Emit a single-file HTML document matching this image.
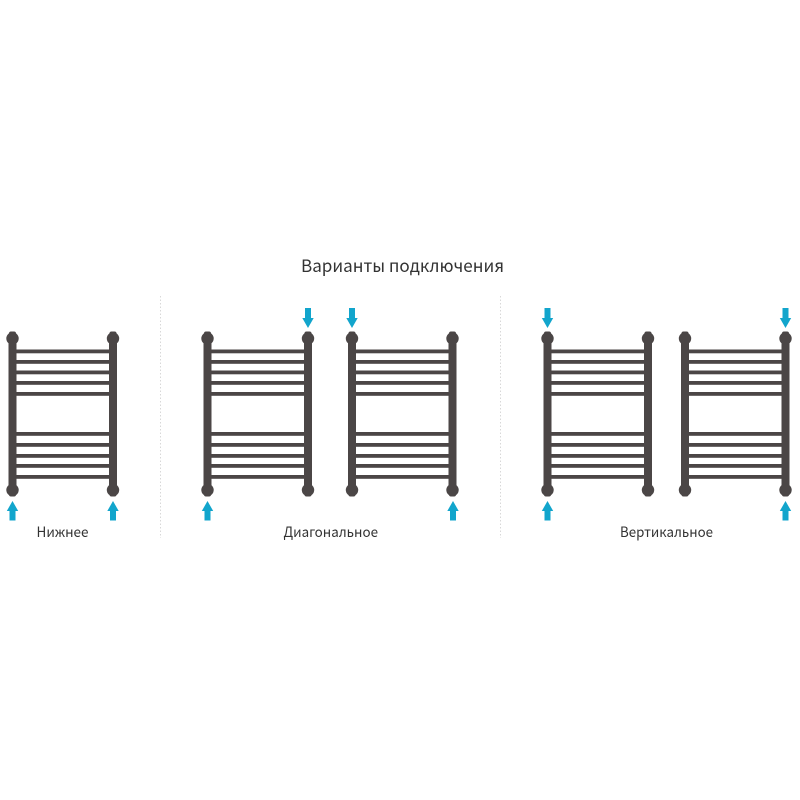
<!DOCTYPE html>
<html>
<head>
<meta charset="utf-8">
<style>
html,body{margin:0;padding:0;background:#fff;width:800px;height:800px;overflow:hidden}
svg{display:block}
text{font-family:"Noto Sans CJK SC","DejaVu Sans",sans-serif;fill:#333}
</style>
</head>
<body>
<svg width="800" height="800" viewBox="0 0 800 800" xmlns="http://www.w3.org/2000/svg" xmlns:xlink="http://www.w3.org/1999/xlink">
<defs>
<g id="r">
  <g fill="#4b4646">
    <rect x="-4" y="334" width="8" height="154"/>
    <rect x="96.5" y="334" width="8" height="154"/>
    <circle cx="0" cy="338.5" r="6.2"/>
    <rect x="-3.5" y="331.5" width="7" height="6" rx="2"/>
    <circle cx="100.5" cy="338.5" r="6.2"/>
    <rect x="97" y="331.5" width="7" height="6" rx="2"/>
    <circle cx="0" cy="490" r="6.2"/>
    <rect x="-3.5" y="491" width="7" height="5.5" rx="2"/>
    <circle cx="100.5" cy="490" r="6.2"/>
    <rect x="97" y="491" width="7" height="5.5" rx="2"/>
    <rect x="3" y="349.5" width="95" height="3.8"/>
    <rect x="3" y="360" width="95" height="3.8"/>
    <rect x="3" y="370.5" width="95" height="3.8"/>
    <rect x="3" y="381" width="95" height="3.8"/>
    <rect x="3" y="392" width="95" height="3.8"/>
    <rect x="3" y="432" width="95" height="3.8"/>
    <rect x="3" y="443" width="95" height="3.8"/>
    <rect x="3" y="454" width="95" height="3.8"/>
    <rect x="3" y="464" width="95" height="3.8"/>
    <rect x="3" y="475" width="95" height="3.8"/>
  </g>
</g>
<polygon id="u" fill="#12a5cc" points="0,501 5.7,511 3,511 3,520.5 -3,520.5 -3,511 -5.7,511"/>
<polygon id="d" fill="#12a5cc" points="0,328 5.7,318 3,318 3,308 -3,308 -3,318 -5.7,318"/>
</defs>

<text x="301" y="272" font-size="17" textLength="203" lengthAdjust="spacingAndGlyphs">Варианты подключения</text>

<use xlink:href="#r" href="#r" x="12.5"/>
<use xlink:href="#r" href="#r" x="207.5"/>
<use xlink:href="#r" href="#r" x="352"/>
<use xlink:href="#r" href="#r" x="547.5"/>
<use xlink:href="#r" href="#r" x="685"/>

<use href="#u" x="12.5"/>
<use href="#u" x="113"/>
<use href="#u" x="207.5"/>
<use href="#u" x="453"/>
<use href="#u" x="547.5"/>
<use href="#u" x="785.5"/>

<use href="#d" x="308"/>
<use href="#d" x="352"/>
<use href="#d" x="547.5"/>
<use href="#d" x="785.5"/>

<line x1="160.5" y1="296" x2="160.5" y2="538" stroke="#d8d8d8" stroke-width="1" stroke-dasharray="1.5 2"/>
<line x1="500.5" y1="296" x2="500.5" y2="538" stroke="#d8d8d8" stroke-width="1" stroke-dasharray="1.5 2"/>

<text x="36.5" y="537" font-size="14" textLength="52" lengthAdjust="spacingAndGlyphs">Нижнее</text>
<text x="283.5" y="537" font-size="14" textLength="94.5" lengthAdjust="spacingAndGlyphs">Диагональное</text>
<text x="620" y="537" font-size="14" textLength="93" lengthAdjust="spacingAndGlyphs">Вертикальное</text>
</svg>
</body>
</html>
